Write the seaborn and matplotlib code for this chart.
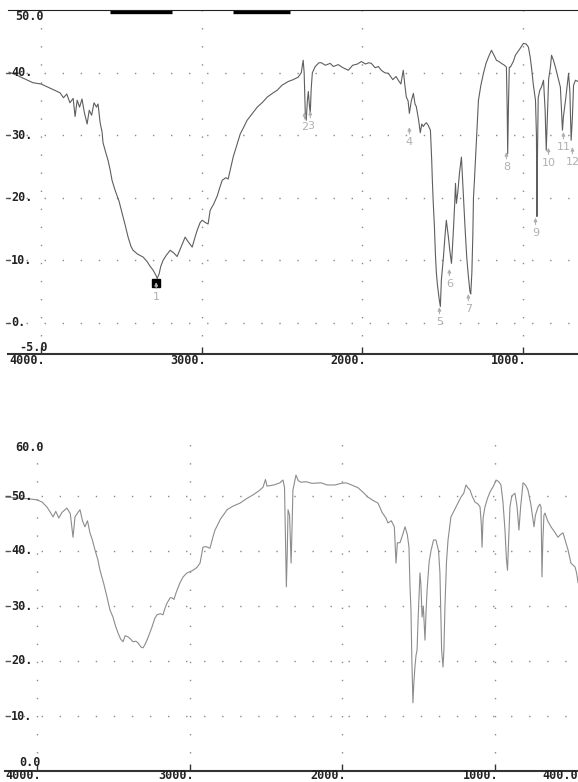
import numpy as np
import pandas as pd
import matplotlib
matplotlib.use("Agg")
import matplotlib.pyplot as plt
import matplotlib.transforms as mtransforms
import seaborn as sns

# ---------------- data ----------------
top_wn = [4200, 4150, 4100, 4050, 4000, 3950, 3900, 3882, 3860, 3840, 3820, 3800, 3788, 3775, 3760,
          3745, 3730, 3713, 3700, 3685, 3670, 3655, 3645, 3632, 3620, 3614, 3600, 3583, 3570, 3558,
          3539, 3515, 3495, 3475, 3458, 3440, 3427, 3400, 3364, 3340, 3320, 3302, 3285, 3277, 3265,
          3255, 3240, 3220, 3196, 3175, 3153, 3130, 3103, 3085, 3059, 3040, 3028, 3010, 2997, 2975,
          2960, 2947, 2925, 2903, 2885, 2872, 2850, 2835, 2822, 2804, 2780, 2760, 2740, 2717, 2690,
          2654, 2620, 2592, 2560, 2530, 2500, 2461, 2430, 2399, 2380, 2368, 2362, 2355, 2349, 2342,
          2336, 2330, 2324, 2318, 2311, 2293, 2270, 2255, 2230, 2200, 2180, 2150, 2120, 2087, 2060,
          2030, 2006, 1980, 1960, 1944, 1920, 1900, 1882, 1860, 1838, 1810, 1790, 1776, 1760, 1745,
          1735, 1726, 1715, 1707, 1695, 1682, 1672, 1664, 1650, 1639, 1630, 1620, 1610, 1601, 1590,
          1576, 1568, 1564, 1558, 1551, 1545, 1539, 1532, 1526, 1520, 1514, 1508, 1500, 1495, 1485,
          1477, 1470, 1464, 1455, 1445, 1440, 1433, 1425, 1420, 1414, 1405, 1395, 1383, 1378, 1370,
          1360, 1350, 1340, 1330, 1325, 1318, 1312, 1308, 1302, 1290, 1277, 1262, 1246, 1230, 1215,
          1196, 1180, 1165, 1150, 1134, 1115, 1103, 1098, 1095, 1090, 1085, 1078, 1060, 1047, 1020,
          997, 980, 966, 955, 947, 935, 922, 916, 913, 909, 905, 895, 885, 872, 862,
          855, 848, 840, 829, 822, 810, 798, 780, 767, 760, 754, 748, 735, 722, 716,
          708, 700, 692, 685, 673, 657]
top_t = [40.1, 39.6, 39.0, 38.4, 38.2, 37.6, 37.0, 36.8, 36.0, 36.6, 35.2, 35.9, 33.0, 35.6, 34.5,
         35.8, 33.6, 31.8, 34.0, 33.2, 35.2, 34.5, 35.0, 32.0, 30.5, 28.8, 27.5, 26.0, 24.5, 22.8,
         21.2, 19.5, 17.5, 15.5, 13.7, 12.2, 11.6, 11.0, 10.5, 9.8, 9.0, 8.4, 7.6, 7.1, 7.8,
         9.0, 10.0, 10.8, 11.6, 11.2, 10.6, 12.0, 13.7, 13.0, 12.1, 13.8, 14.8, 16.0, 16.4, 16.0,
         15.8, 18.0, 19.0, 20.3, 21.8, 22.8, 23.2, 23.0, 24.5, 26.5, 28.5, 30.2, 31.2, 32.4, 33.3,
         34.5, 35.3, 36.1, 36.7, 37.2, 38.0, 38.6, 38.9, 39.3, 40.0, 42.0, 40.0, 33.5, 32.4, 35.5,
         37.0, 35.0, 33.5, 37.5, 40.0, 41.0, 41.6, 41.6, 41.2, 41.5, 41.0, 41.3, 40.8, 40.4, 41.2,
         41.4, 41.8, 41.4, 41.6, 41.5, 40.8, 41.0, 40.4, 40.0, 39.9, 38.9, 39.4, 38.8, 38.2, 40.4,
         38.0, 36.1, 35.5, 33.5, 35.5, 36.7, 35.0, 34.6, 32.5, 30.4, 31.8, 31.4, 31.8, 32.0, 31.6,
         30.8, 26.0, 22.8, 19.0, 15.3, 11.0, 8.0, 6.0, 4.8, 3.5, 2.6, 6.8, 9.0, 10.5, 14.0,
         16.4, 15.0, 13.7, 11.5, 9.5, 11.5, 14.8, 19.0, 22.3, 19.1, 21.0, 24.0, 26.5, 24.0, 20.0,
         15.0, 10.5, 7.5, 5.0, 4.6, 8.0, 14.0, 20.0, 22.8, 29.0, 35.6, 38.0, 39.9, 41.5, 42.5,
         43.6, 42.8, 42.0, 41.8, 41.5, 41.2, 40.9, 34.0, 27.0, 35.0, 40.9, 40.9, 41.8, 42.8, 43.8,
         44.7, 44.6, 44.1, 42.5, 40.9, 38.0, 35.6, 30.0, 17.0, 28.0, 36.0, 37.2, 37.7, 38.8, 34.0,
         27.6, 33.0, 39.0, 40.9, 42.8, 42.0, 40.9, 39.0, 37.7, 34.0, 30.8, 33.0, 35.6, 38.5, 39.9,
         37.0, 29.2, 33.0, 38.0, 38.8, 38.6]

bot_wn = [4210, 4150, 4115, 4060, 4003, 3970, 3938, 3915, 3898, 3880, 3860, 3840, 3807, 3785, 3767,
          3754, 3735, 3721, 3705, 3689, 3672, 3656, 3640, 3623, 3605, 3590, 3565, 3544, 3525, 3505,
          3490, 3472, 3455, 3439, 3425, 3407, 3390, 3374, 3355, 3341, 3320, 3308, 3295, 3282, 3265,
          3249, 3230, 3216, 3195, 3177, 3165, 3151, 3130, 3118, 3105, 3090, 3066, 3045, 3020, 2995,
          2980, 2955, 2934, 2915, 2895, 2869, 2850, 2836, 2800, 2757, 2715, 2672, 2630, 2587, 2550,
          2521, 2505, 2495, 2450, 2410, 2390, 2380, 2372, 2368, 2362, 2357, 2347, 2337, 2330, 2325,
          2305, 2290, 2272, 2240, 2200, 2141, 2100, 2049, 2010, 1977, 1940, 1898, 1870, 1833, 1800,
          1767, 1740, 1715, 1702, 1680, 1660, 1649, 1640, 1623, 1605, 1590, 1575, 1564, 1558, 1551,
          1545, 1538, 1532, 1525, 1518, 1511, 1505, 1498, 1492, 1486, 1478, 1470, 1465, 1459, 1452,
          1445, 1432, 1420, 1403, 1387, 1370, 1361, 1355, 1350, 1341, 1335, 1328, 1318, 1308, 1289,
          1256, 1223, 1205, 1190, 1178, 1164, 1150, 1131, 1110, 1098, 1090, 1085, 1078, 1066, 1050,
          1033, 1010, 993, 975, 961, 948, 935, 925, 918, 910, 902, 890, 869, 855, 843,
          832, 816, 800, 784, 765, 752, 744, 735, 718, 706, 698, 692, 686, 679, 672,
          655, 633, 610, 587, 570, 554, 540, 521, 502, 490, 475, 465, 455]
bot_t = [49.8, 49.7, 49.6, 49.5, 49.3, 48.9, 48.0, 47.0, 46.2, 47.2, 46.0, 47.0, 47.8, 46.8, 42.5,
         46.2, 47.0, 47.5, 45.5, 44.4, 45.5, 43.3, 42.0, 40.2, 38.5, 36.5, 34.0, 31.6, 29.3, 28.0,
         26.5, 25.1, 24.0, 23.5, 24.6, 24.4, 24.0, 23.5, 23.6, 23.3, 22.5, 22.4, 23.0, 23.8, 25.0,
         26.2, 27.8, 28.4, 28.6, 28.4, 29.5, 30.5, 31.5, 31.5, 31.2, 32.5, 34.2, 35.3, 36.0, 36.3,
         36.5, 37.0, 37.8, 40.7, 40.8, 40.5, 42.5, 43.8, 45.8, 47.5, 48.2, 48.7, 49.5, 50.2, 50.9,
         51.6, 53.0, 51.8, 52.0, 52.4, 52.9, 51.5, 40.0, 33.5, 40.0, 47.5, 46.5, 37.8, 45.0, 51.1,
         53.8, 52.8, 52.5, 52.6, 52.3, 52.4, 52.0, 52.0, 52.3, 52.4, 52.0, 51.5, 50.8, 49.8, 49.2,
         48.7, 47.0, 46.0, 45.1, 45.5, 44.4, 37.8, 41.5, 41.5, 43.0, 44.4, 43.0, 40.7, 34.0, 29.3,
         20.0, 12.4, 16.0, 18.9, 21.0, 22.0, 27.0, 32.0, 36.0, 34.0, 28.0, 30.0, 27.0, 23.8, 29.0,
         33.0, 38.0, 40.0, 42.0, 42.0, 40.0, 36.0, 28.0, 22.0, 18.9, 22.0, 30.0, 38.0, 42.0, 46.2,
         48.0, 49.8, 50.5, 52.0, 51.5, 51.1, 50.0, 48.9, 48.5, 48.0, 45.0, 40.7, 46.0, 48.0, 49.5,
         50.7, 51.8, 52.9, 52.6, 52.0, 49.0, 44.0, 38.5, 36.5, 42.0, 48.0, 50.0, 50.5, 48.0, 43.8,
         48.0, 52.4, 52.0, 51.1, 48.5, 46.0, 44.4, 46.5, 48.0, 48.5, 48.0, 35.3, 42.0, 46.5, 46.9,
         45.5, 44.4, 43.5, 42.5, 43.0, 43.3, 42.0, 40.2, 37.8, 37.5, 37.1, 36.0, 34.2]

# peak labels (top panel)
peak_ids = ["1", "2", "3", "4", "5", "6", "7", "8", "9", "10", "11", "12"]
peak_wn = [3283, 2360, 2324, 1707, 1520, 1458, 1340, 1103, 922, 841, 748, 692]
peak_label_y = [4.1, 31.3, 31.5, 28.9, 0.1, 6.2, 2.2, 24.9, 14.4, 25.6, 28.1, 25.7]
marker_wn = [3283]
marker_t = [6.4]

top_xticks = [4000, 3000, 2000, 1000]
top_xticklabels = ["4000.", "3000.", "2000.", "1000."]
top_yticks = [0, 10, 20, 30, 40]
top_yticklabels = ["0.", "10.", "20.", "30.", "40."]
bot_xticks = [4000, 3000, 2000, 1000]
bot_xticklabels = ["4000.", "3000.", "2000.", "1000."]
bot_yticks = [10, 20, 30, 40, 50]
bot_yticklabels = ["10.", "20.", "30.", "40.", "50."]

# ---------------- figure ----------------
sns.set_style("white")
plt.rcParams["font.family"] = ["DejaVu Sans Mono", "DejaVu Sans"]

W, H = 578, 782
fig = plt.figure(figsize=(W / 100, H / 100), dpi=100)


def px_axes(left, right, top, bottom):
    return fig.add_axes([left / W, 1 - bottom / H, (right - left) / W, (bottom - top) / H])


ax1 = px_axes(8, 578, 10.25, 354)
ax2 = px_axes(5, 578, 441, 771)

df_top = pd.DataFrame({"wn": top_wn, "T": top_t})
df_bot = pd.DataFrame({"wn": bot_wn, "T": bot_t})

sns.lineplot(data=df_top, x="wn", y="T", ax=ax1, sort=False, color="#5e5e5e", linewidth=0.8)
sns.lineplot(data=df_bot, x="wn", y="T", ax=ax2, sort=False, color="#8c8c8c", linewidth=0.8)

ax1.set_xlim(4205.6, 657.3)
ax1.set_ylim(-5, 50)
ax2.set_xlim(4213, 455.7)
ax2.set_ylim(0, 60)

grid_style = dict(linestyle=(0, (1, 12)), color="#8a8a8a", linewidth=1.0)
lab_font = dict(fontsize=8.5, fontweight="bold", color="#222222", family="DejaVu Sans Mono")

for ax, xt, yt in [(ax1, top_xticks, top_yticks), (ax2, bot_xticks, bot_yticks)]:
    ax.set_xticks(xt)
    ax.set_yticks(yt)
    ax.grid(True, **grid_style)
    ax.tick_params(axis="x", direction="in", length=5, width=1, color="#333333",
                   labelbottom=False, bottom=True, top=False)
    ax.tick_params(axis="y", left=False, right=False, labelleft=False)
    ax.set_xlabel("")
    ax.set_ylabel("")
    for s in ["left", "right"]:
        ax.spines[s].set_visible(False)
    ax.spines["bottom"].set_color("#333333")
    ax.spines["bottom"].set_linewidth(1.5)
    ax.set_facecolor("none")

ax1.spines["top"].set_visible(True)
ax1.spines["top"].set_color("#222222")
ax1.spines["top"].set_linewidth(0.8)
ax2.spines["top"].set_visible(False)

# thick bars on the top border
bt = mtransforms.blended_transform_factory(ax1.transData, ax1.transAxes)
for a, b in [(3570, 3184), (2804, 2449)]:
    ax1.plot([a, b], [0.995, 0.995], transform=bt, color="black", lw=2.4,
             solid_capstyle="butt", clip_on=False)

# y labels
for ax, yt, ylab, left_px, top_lab, bot_lab, ymax, ymin, bot_up in [
        (ax1, top_yticks, top_yticklabels, 8, "50.0", "-5.0", 50, -5, 0.0),
        (ax2, bot_yticks, bot_yticklabels, 5, "60.0", "0.0", 60, 0, 2.5)]:
    tr = mtransforms.blended_transform_factory(ax.transAxes, ax.transData)
    width_px = 578 - left_px
    for v, s in zip(yt, ylab):
        ax.text((11 - left_px) / width_px, v, s, transform=tr, ha="left", va="center", **lab_font)
        ax.plot([(6 - left_px) / width_px, (10 - left_px) / width_px], [v, v], transform=tr,
                color="#555555", lw=1, clip_on=False)
    ax.text((15 - left_px) / width_px, ymax, top_lab, transform=tr, ha="left", va="top",
            **lab_font)
    ax.text((14 - left_px) / width_px + 0.01, ymin, bot_lab,
            transform=tr + mtransforms.ScaledTranslation(0, bot_up / 100, fig.dpi_scale_trans),
            ha="left", va="bottom", **lab_font)

# x labels (top panel: below the axis; bottom panel: resting on the figure edge)
tr1 = mtransforms.blended_transform_factory(ax1.transData, ax1.transAxes)
off1 = mtransforms.ScaledTranslation(4 / 100, 0, fig.dpi_scale_trans)
for v, s in zip(top_xticks, top_xticklabels):
    ax1.text(v, 0, s, transform=tr1 + off1, ha="right", va="top", **lab_font)

tr2 = mtransforms.blended_transform_factory(ax2.transData, fig.transFigure)
off2 = mtransforms.ScaledTranslation(4 / 100, 0, fig.dpi_scale_trans)
for v, s in zip(bot_xticks, bot_xticklabels):
    ax2.text(v, 0, s, transform=tr2 + off2, ha="right", va="bottom", **lab_font)
ax2.text(1.0, 0, "400.0",
         transform=mtransforms.blended_transform_factory(ax2.transAxes, fig.transFigure),
         ha="right", va="bottom", **lab_font)

# peak marker and labels
ax1.plot(marker_wn, marker_t, marker="s", color="black", markersize=6, linestyle="none")
for pid, x, y in zip(peak_ids, peak_wn, peak_label_y):
    ax1.annotate(pid, xy=(x, y + 2.4), xytext=(x, y), ha="center", va="center",
                 color="#b0b0b0", fontsize=8, family="DejaVu Sans",
                 arrowprops=dict(arrowstyle="-|>", color="#b0b0b0", lw=0.8,
                                 mutation_scale=5, shrinkA=0, shrinkB=0))

fig.savefig("out.png", dpi=100)
